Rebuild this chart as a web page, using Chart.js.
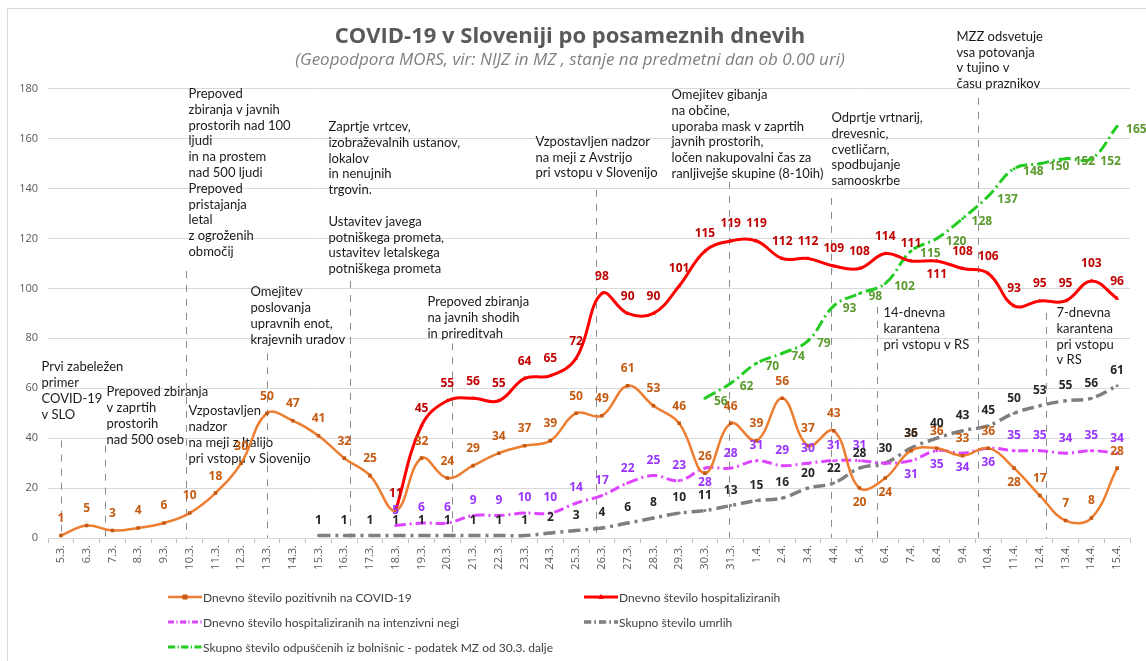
<!DOCTYPE html>
<html>
<head>
<meta charset="utf-8">
<script src="https://cdn.jsdelivr.net/npm/chart.js@4.4.1/dist/chart.umd.min.js"></script>
<style>
  body { margin: 0; background: #fff; }
  #wrap { position: relative; width: 1146px; height: 661px; }
  .leg { position: absolute; font: 12px Lato, sans-serif; color: #404040; display: flex; align-items: center; white-space: nowrap; height: 14px; }
  .leg svg { margin-right: 1px; }
</style>
</head>
<body>
<div id="wrap">
  <canvas id="chart" width="1146" height="661"></canvas>
  <div id="legend"></div>
</div>
<script>
const dates = ['5.3.', '6.3.', '7.3.', '8.3.', '9.3.', '10.3.', '11.3.', '12.3.', '13.3.', '14.3.',
  '15.3.', '16.3.', '17.3.', '18.3.', '19.3.', '20.3.', '21.3.', '22.3.', '23.3.', '24.3.',
  '25.3.', '26.3.', '27.3.', '28.3.', '29.3.', '30.3.', '31.3.',
  '1.4.', '2.4.', '3.4.', '4.4.', '5.4.', '6.4.', '7.4.', '8.4.', '9.4.', '10.4.', '11.4.', '12.4.', '13.4.', '14.4.', '15.4.'];

const positive = [1, 5, 3, 4, 6, 10, 18, 30, 50, 47, 41, 32, 25, 11, 32, 24, 29, 34, 37, 39,
  50, 49, 61, 53, 46, 26, 46,
  39, 56, 37, 43, 20, 24, 35, 36, 33, 36, 28, 17, 7, 8, 28];

const hospitalized = [null, null, null, null, null, null, null, null, null, null, null, null, null,
  11, 45, 55, 56, 55, 64, 65, 72, 98, 90, 90, 101, 115, 119,
  119, 112, 112, 109, 108, 114, 111, 111, 108, 106, 93, 95, 95, 103, 96];

const intensive = [null, null, null, null, null, null, null, null, null, null, null, null, null,
  5, 6, 6, 9, 9, 10, 10, 14, 17, 22, 25, 23, 28, 28,
  31, 29, 30, 31, 31, 30, 31, 35, 34, 36, 35, 35, 34, 35, 34];

const deaths = [null, null, null, null, null, null, null, null, null, null,
  1, 1, 1, 1, 1, 1, 1, 1, 1, 2, 3, 4, 6, 8, 10, 11, 13,
  15, 16, 20, 22, 28, 30, 36, 40, 43, 45, 50, 53, 55, 56, 61];

const discharged = [null, null, null, null, null, null, null, null, null, null, null, null, null,
  null, null, null, null, null, null, null, null, null, null, null, null,
  56, 62,
  70, 74, 79, 93, 98, 102, 115, 120, 128, 137, 148, 150, 152, 152, 165];

const yTicks = [0, 20, 40, 60, 80, 100, 120, 140, 160, 180];

// dogodki: navpicna crta pri dnevu + besedilo
const events = [
  { at: 0, top: 39, notes: [{ dx: -20, ty: 68.5, lines: ['Prvi zabeležen', 'primer', 'COVID-19', 'v SLO'] }] },
  { at: 1.71, top: 37, notes: [{ dx: 1, ty: 58.5, lines: ['Prepoved zbiranja', 'v zaprtih', 'prostorih', 'nad 500 oseb'] }] },
  { at: 4.86, top: 107, notes: [
    { dx: 2, ty: 178, lines: ['Prepoved', 'zbiranja v javnih', 'prostorih nad 100', 'ljudi', 'in na prostem', 'nad 500 ljudi',
      'Prepoved', 'pristajanja', 'letal', 'z ogroženih', 'območij'] },
    { dx: 2, ty: 50.9, lines: ['Vzpostavljen', 'nadzor', 'na meji z Italijo', 'pri vstopu v Slovenijo'] }] },
  { at: 8.0, top: 74, notes: [{ dx: -17, ty: 98.6, lines: ['Omejitev', 'poslovanja', 'upravnih enot,', 'krajevnih uradov'] }] },
  { at: 11.22, top: 103, notes: [{ dx: -22, ty: 164.8, lines: ['Zaprtje vrtcev,', 'izobraževalnih ustanov,', 'lokalov', 'in nenujnih', 'trgovin.', '',
    'Ustavitev javega', 'potniškega prometa,', 'ustavitev letalskega', 'potniškega prometa'] }] },
  { at: 15.18, top: 78, notes: [{ dx: -25, ty: 94.6, lines: ['Prepoved zbiranja', 'na javnih shodih', 'in prireditvah'] }] },
  { at: 20.77, top: 139.5, notes: [{ dx: -61, ty: 158.8, lines: ['Vzpostavljen nadzor', 'na meji z Avstrijo', 'pri vstopu v Slovenijo'] }] },
  { at: 25.94, top: 142.7, notes: [{ dx: -58, ty: 177.6, lines: ['Omejitev gibanja', 'na občine,', 'uporaba mask v zaprtih', 'javnih prostorih,',
    'ločen nakupovalni čas za', 'ranljivejše skupine (8-10ih)'] }] },
  { at: 29.9, top: 136.3, notes: [{ dx: 0, ty: 168.4, lines: ['Odprtje vrtnarij,', 'drevesnic,', 'cvetličarn,', 'spodbujanje', 'samooskrbe'] }] },
  { at: 31.68, top: 92.6, notes: [{ dx: 6, ty: 90.2, lines: ['14-dnevna', 'karantena', 'pri vstopu v RS'] }] },
  { at: 35.6, top: 176.4, notes: [{ dx: -22, ty: 200.9, lines: ['MZZ odsvetuje', 'vsa potovanja', 'v tujino v', 'času praznikov'] }] },
  { at: 38.24, top: 90.2, notes: [{ dx: 10, ty: 90.2, lines: ['7-dnevna', 'karantena', 'pri vstopu', 'v RS'] }] }
];

const eventPlugin = {
  id: 'events',
  beforeDatasetsDraw(chart) {
    const { ctx, scales: { x, y } } = chart;
    ctx.save();
    ctx.strokeStyle = '#8c8c8c';
    ctx.lineWidth = 1;
    ctx.font = '13px Lato, sans-serif';
    ctx.fillStyle = '#1a1a1a';
    ctx.textBaseline = 'middle';
    ctx.textAlign = 'left';
    events.forEach(ev => {
      const px = Math.round(x.getPixelForValue(ev.at)) + 0.5;
      ctx.setLineDash([7, 7]);
      ctx.beginPath();
      ctx.moveTo(px, y.getPixelForValue(ev.top));
      ctx.lineTo(px, y.getPixelForValue(0));
      ctx.stroke();
      ev.notes.forEach(n => {
        const ty = y.getPixelForValue(n.ty);
        n.lines.forEach((t, i) => ctx.fillText(t, px + n.dx, ty + i * 15.8));
      });
    });
    ctx.restore();
  }
};

const valueLabels = {
  id: 'valueLabels',
  afterDatasetsDraw(chart) {
    const ctx = chart.ctx;
    ctx.save();
    ctx.font = 'bold 12px "Open Sans", sans-serif';
    ctx.textBaseline = 'middle';
    chart.data.datasets.forEach((ds, di) => {
      const meta = chart.getDatasetMeta(di);
      meta.data.forEach((pt, i) => {
        const v = ds.data[i];
        if (v === null || (ds.labelHide || []).includes(i)) return;
        const below = (ds.labelBelow || []).includes(i);
        ctx.fillStyle = ds.labelColor;
        ctx.textAlign = ds.labelAlign || 'center';
        ctx.fillText(v, pt.x + (ds.labelDx || 0), pt.y + (below ? 14 : ds.labelDy));
      });
    });
    ctx.restore();
  }
};

const framePlugin = {
  id: 'frame',
  beforeDraw(chart) {
    const ctx = chart.ctx;
    ctx.save();
    ctx.fillStyle = '#fff';
    ctx.fillRect(0, 0, chart.width, chart.height);
    ctx.strokeStyle = '#d9d9d9';
    ctx.lineWidth = 1;
    ctx.strokeRect(7.5, 8.5, chart.width, chart.height);
    ctx.restore();
  }
};

const chart = new Chart(document.getElementById('chart'), {
  type: 'line',
  data: {
    labels: dates,
    datasets: [{
      label: 'Dnevno število pozitivnih na COVID-19',
      data: positive,
      borderColor: '#ED7D31', backgroundColor: '#C65911', borderWidth: 2.5,
      pointStyle: 'rect', pointRadius: 2.5, pointBorderWidth: 0,
      labelColor: '#C55A11', labelDy: -17, labelBelow: [31, 32, 37], labelHide: [13]
    }, {
      label: 'Dnevno število hospitaliziranih',
      data: hospitalized,
      borderColor: '#FF0000', backgroundColor: '#FF0000', borderWidth: 3,
      pointStyle: 'triangle', pointRadius: 2.5, pointBorderWidth: 0,
      labelColor: '#C00000', labelDy: -17, labelBelow: [34]
    }, {
      label: 'Dnevno število hospitaliziranih na intenzivni negi',
      data: intensive,
      borderColor: '#DD44FF', backgroundColor: '#DD44FF', borderWidth: 3, borderDash: [10, 4, 2, 4],
      pointRadius: 1.5, pointBorderWidth: 0,
      labelColor: '#9933FF', labelDy: -15, labelBelow: [25, 33, 34, 35, 36], labelHide: [32]
    }, {
      label: 'Skupno število umrlih',
      data: deaths,
      borderColor: '#7F7F7F', backgroundColor: '#7F7F7F', borderWidth: 3.5, borderDash: [12, 5, 3, 5],
      pointRadius: 1.5, pointBorderWidth: 0,
      labelColor: '#262626', labelDy: -15
    }, {
      label: 'Skupno število odpuščenih iz bolnišnic - podatek MZ od 30.3. dalje',
      data: discharged,
      borderColor: '#22CC22', backgroundColor: '#22CC22', borderWidth: 3, borderDash: [12, 4, 2, 4],
      pointRadius: 1.5, pointBorderWidth: 0,
      labelColor: '#5A9A2E', labelDy: 3, labelDx: 9, labelAlign: 'left'
    }]
  },
  options: {
    responsive: false,
    animation: false,
    devicePixelRatio: 1,
    layout: { padding: { left: 10, right: 16, top: 0, bottom: 73 } },
    elements: { line: { tension: 0.4 } },
    scales: {
      x: {
        offset: true,
        grid: { drawOnChartArea: false, offset: true, tickLength: 5, color: '#bfbfbf' },
        border: { color: '#d9d9d9' },
        ticks: { autoSkip: false, maxRotation: 90, minRotation: 90, color: '#595959', font: { family: 'Open Sans', size: 11 }, padding: 2 },
        afterFit(scale) { scale.height = 50; }
      },
      y: {
        min: 0, max: 180,
        afterBuildTicks(scale) { scale.ticks = yTicks.map(v => ({ value: v })); },
        grid: { color: '#d9d9d9', drawTicks: false },
        border: { display: false },
        ticks: { color: '#595959', font: { family: 'Open Sans', size: 11 }, padding: 10 },
        afterFit(scale) { scale.width = 38; }
      }
    },
    plugins: {
      legend: { display: false },
      tooltip: { enabled: false },
      title: {
        display: true,
        text: 'COVID-19 v Sloveniji po posameznih dnevih',
        color: '#595959',
        font: { family: 'Open Sans', size: 22, weight: 'bold' },
        padding: { top: 24, bottom: 0 }
      },
      subtitle: {
        display: true,
        text: '(Geopodpora MORS, vir: NIJZ in MZ , stanje na predmetni dan ob 0.00 uri)',
        color: '#7F7F7F',
        font: { family: 'Open Sans', size: 17, style: 'italic' },
        padding: { top: 0, bottom: 18 }
      }
    }
  },
  plugins: [framePlugin, eventPlugin, valueLabels]
});

// legenda v dveh stolpcih
const legendPos = [[168, 597], [584, 597], [168, 622], [584, 622], [168, 647]];

function legendSymbol(ds) {
  const dash = ds.borderDash ? ds.borderDash.map(d => d * 0.6).join(' ') : 'none';
  let marker = `<circle cx="17" cy="5" r="1.5" fill="${ds.backgroundColor}"/>`;
  if (ds.pointStyle === 'rect') marker = `<rect x="14.5" y="2.5" width="5" height="5" fill="${ds.backgroundColor}"/>`;
  if (ds.pointStyle === 'triangle') marker = `<polygon points="17,2 20,7 14,7" fill="${ds.backgroundColor}"/>`;
  return `<svg width="34" height="10"><line x1="0" y1="5" x2="34" y2="5" stroke="${ds.borderColor}" stroke-width="${ds.borderWidth}" stroke-dasharray="${dash}"/>${marker}</svg>`;
}

const legendBox = document.getElementById('legend');
chart.data.datasets.forEach((ds, i) => {
  const item = document.createElement('div');
  item.className = 'leg';
  item.style.left = legendPos[i][0] + 'px';
  item.style.top = (legendPos[i][1] - 7) + 'px';
  item.innerHTML = legendSymbol(ds) + '<span>' + ds.label + '</span>';
  legendBox.appendChild(item);
});
</script>
</body>
</html>
